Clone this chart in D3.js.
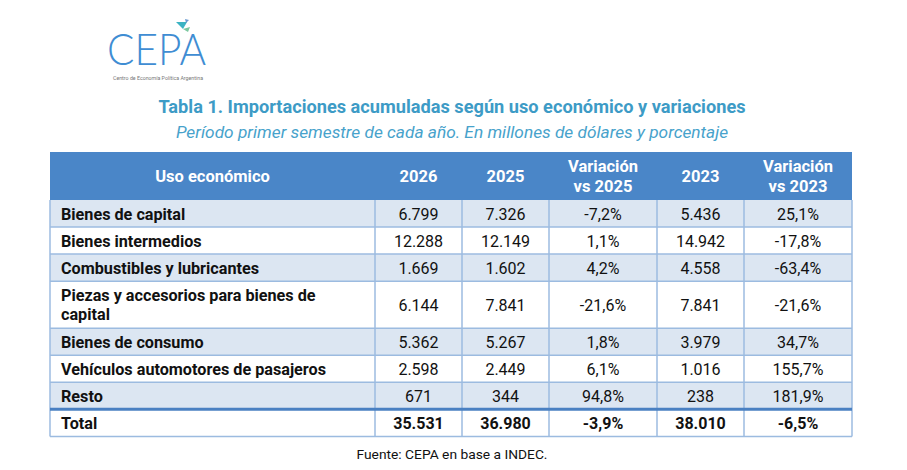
<!DOCTYPE html>
<html><head><meta charset="utf-8">
<script src="https://cdn.jsdelivr.net/npm/d3@7"></script>
<style>html,body{margin:0;padding:0;background:#fff;}svg{display:block;}</style>
</head><body>
<svg id="chart" width="907" height="470"></svg>
<script>
// ---- data ----
const title = "Tabla 1. Importaciones acumuladas según uso económico y variaciones";
const subtitle = "Período primer semestre de cada año. En millones de dólares y porcentaje";
const source = "Fuente: CEPA en base a INDEC.";
const headers = [["Uso económico"], ["2026"], ["2025"], ["Variación", "vs 2025"], ["2023"], ["Variación", "vs 2023"]];
const categories = [
  ["Bienes de capital"],
  ["Bienes intermedios"],
  ["Combustibles y lubricantes"],
  ["Piezas y accesorios para bienes de", "capital"],
  ["Bienes de consumo"],
  ["Vehículos automotores de pasajeros"],
  ["Resto"]
];
const v2026 = ["6.799", "12.288", "1.669", "6.144", "5.362", "2.598", "671"];
const v2025 = ["7.326", "12.149", "1.602", "7.841", "5.267", "2.449", "344"];
const var2025 = ["-7,2%", "1,1%", "4,2%", "-21,6%", "1,8%", "6,1%", "94,8%"];
const v2023 = ["5.436", "14.942", "4.558", "7.841", "3.979", "1.016", "238"];
const var2023 = ["25,1%", "-17,8%", "-63,4%", "-21,6%", "34,7%", "155,7%", "181,9%"];
const totalRow = ["Total", "35.531", "36.980", "-3,9%", "38.010", "-6,5%"];

// ---- layout ----
const svg = d3.select("#chart");
const font = "Roboto, 'Noto Sans', sans-serif";
const colW = [325, 87, 87, 108, 87, 108];
const tableX = 50, headTop = 152, headBottom = 200;
const xEdges = [tableX];
colW.forEach(w => xEdges.push(xEdges[xEdges.length - 1] + w));
const x = d3.scaleOrdinal().domain(d3.range(6)).range(xEdges.slice(0, 6));

const rows = categories.map((c, i) => ({
  lines: c, cells: [v2026[i], v2025[i], var2025[i], v2023[i], var2023[i]], bold: false
}));
rows.push({lines: [totalRow[0]], cells: totalRow.slice(1), bold: true});

const units = rows.map(r => r.lines.length === 1 ? 1 : 1.74);
const cum = [0]; units.forEach(u => cum.push(cum[cum.length - 1] + u));
const y = d3.scaleLinear().domain([0, 1]).range([headBottom, headBottom + 27.05]);

// ---- logo ----
const logo = svg.append("g");
logo.append("text").attr("x", 107).attr("y", 64.5).text("CEPA")
  .attr("font-family", "Lato, 'DejaVu Sans', sans-serif").attr("font-weight", 300)
  .attr("font-size", 44).attr("fill", "#3f8dd3")
  .attr("textLength", 99).attr("lengthAdjust", "spacingAndGlyphs");
logo.append("path").attr("d", "M176,22 L187,22 L183,29 Z").attr("fill", "#3bb3c3");
logo.append("path").attr("d", "M183,29 L190,27 L188,32 Z").attr("fill", "#7cc8a0");
logo.append("path").attr("d", "M185,19 L189,20 L186,23 Z").attr("fill", "#6a9ad0");
logo.append("text").attr("x", 113).attr("y", 79.5).text("Centro de Economía Política Argentina")
  .attr("font-family", font).attr("font-size", 5.8).attr("fill", "#777")
  .attr("textLength", 90).attr("lengthAdjust", "spacingAndGlyphs");

// ---- titles ----
svg.append("text").attr("x", 452).attr("y", 113).attr("text-anchor", "middle")
  .attr("font-family", font).attr("font-weight", 700).attr("font-size", 18.2)
  .attr("fill", "#3d9bc6").text(title);
svg.append("text").attr("x", 452).attr("y", 138).attr("text-anchor", "middle")
  .attr("font-family", font).attr("font-style", "italic").attr("font-size", 17.3)
  .attr("fill", "#47a2cb").text(subtitle);

// ---- header ----
const head = svg.append("g");
head.append("rect").attr("x", tableX).attr("y", headTop)
  .attr("width", xEdges[6] - tableX).attr("height", headBottom - headTop).attr("fill", "#4a86c8");
headers.forEach((h, j) => {
  const cx = x(j) + colW[j] / 2;
  const mid = (headTop + headBottom) / 2;
  h.forEach((t, k) => {
    head.append("text").attr("x", cx)
      .attr("y", mid + 6 + (k - (h.length - 1) / 2) * 20)
      .attr("text-anchor", "middle").attr("font-family", font).attr("font-weight", 700)
      .attr("font-size", 16.5).attr("fill", "#fff").text(t);
  });
});

// ---- body ----
const body = svg.append("g");
rows.forEach((r, i) => {
  const top = y(cum[i]), bot = y(cum[i + 1]);
  const fill = (i < rows.length - 1 && i % 2 === 0) ? "#dce6f2" : "#ffffff";
  body.append("rect").attr("x", tableX).attr("y", top).attr("width", xEdges[6] - tableX)
    .attr("height", bot - top).attr("fill", fill);
  const mid = (top + bot) / 2;
  r.lines.forEach((t, k) => {
    body.append("text").attr("x", tableX + 11)
      .attr("y", mid + 6 + (k - (r.lines.length - 1) / 2) * 19.5)
      .attr("font-family", font).attr("font-weight", 700).attr("font-size", 16.2)
      .attr("fill", "#111").text(t);
  });
  r.cells.forEach((c, j) => {
    body.append("text").attr("x", x(j + 1) + colW[j + 1] / 2).attr("y", mid + 6)
      .attr("text-anchor", "middle").attr("font-family", font)
      .attr("font-weight", r.bold ? 700 : 400).attr("font-size", 16)
      .attr("fill", "#111").text(c);
  });
});

// grid lines
const grid = svg.append("g").attr("stroke", "#9cbbe0").attr("stroke-width", 1.5).attr("fill", "none");
const bodyBottom = y(cum[rows.length]);
for (let i = 0; i < rows.length - 1; i++) {
  grid.append("line").attr("x1", tableX).attr("x2", xEdges[6])
    .attr("y1", y(cum[i + 1])).attr("y2", y(cum[i + 1]));
}
xEdges.forEach(xe => {
  grid.append("line").attr("x1", xe).attr("x2", xe).attr("y1", headBottom).attr("y2", bodyBottom);
});
grid.append("line").attr("x1", tableX).attr("x2", xEdges[6]).attr("y1", bodyBottom).attr("y2", bodyBottom);
// thick line above total
svg.append("line").attr("x1", tableX).attr("x2", xEdges[6])
  .attr("y1", y(cum[rows.length - 1])).attr("y2", y(cum[rows.length - 1]))
  .attr("stroke", "#4a80c2").attr("stroke-width", 3);

// ---- source ----
svg.append("text").attr("x", 452).attr("y", 459).attr("text-anchor", "middle")
  .attr("font-family", font).attr("font-size", 13.5).attr("fill", "#111")
  .attr("textLength", 191).attr("lengthAdjust", "spacingAndGlyphs").text(source);
</script>
</body></html>
